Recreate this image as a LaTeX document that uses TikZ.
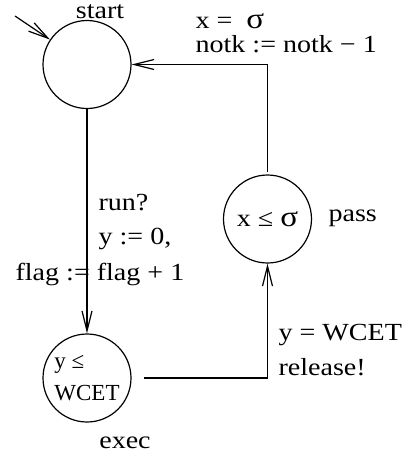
\documentclass[tikz,border=0pt]{standalone}
\usepackage{fontspec}
\setmainfont{Liberation Serif}[FakeStretch=1.14]
\newfontfamily\statefont{Liberation Serif}
\usetikzlibrary{arrows.meta}
\newcommand{\sig}{{\fontsize{14.5}{15}\selectfont σ}}

\begin{document}
\begin{tikzpicture}[x=0.5pt,y=-0.5pt,line width=0.6pt,
  font=\fontsize{12.3}{15}\selectfont,
  state/.style={draw,circle,minimum size=44pt,inner sep=0pt},
  lbl/.style={inner sep=0pt,anchor=base west},
  trans/.style={-{Straight Barb[length=10pt,width=5pt]}}]
  \useasboundingbox (0,0) rectangle (407,456);
  % locations
  \node[state] (start) at ( 87.0, 64.5) {};
  \node[state] (pass)  at (267.5,219.0) {x ≤ \sig};
  \node[state,align=left,font=\statefont\fontsize{11.5}{16}\selectfont]
    (exec) at ( 87.0,378.0) {y ≤\\WCET};
  \node[lbl,anchor=base] (startname) at (100, 18) {start};
  \node[lbl] (passname) at (328,221) {pass};
  \node[lbl,anchor=base] (execname) at (125,448) {exec};
  % transitions
  \coordinate (init) at (15,16);
  \draw[trans] (init) -- (start);
  \draw[trans] (start) -- (exec);
  \draw[trans] ([xshift=6pt]exec.east) -| (pass);
  \draw[trans] ([yshift=1pt]pass.north) |- (start);
  % guards, syncs and updates
  \node[lbl] (guardpass) at (195, 28) {x = \ \sig};
  \node[lbl] (updpass)   at (195, 52) {notk := notk − 1};
  \node[lbl] (syncrun)   at ( 98,210) {run?};
  \node[lbl] (updy)      at ( 98,244) {y := 0,};
  \node[lbl] (updflag)   at ( 15,280) {flag := flag + 1};
  \node[lbl] (guardexec) at (278,340) {y = WCET};
  \node[lbl] (syncrel)   at (278,375) {release!};
\end{tikzpicture}
\end{document}
